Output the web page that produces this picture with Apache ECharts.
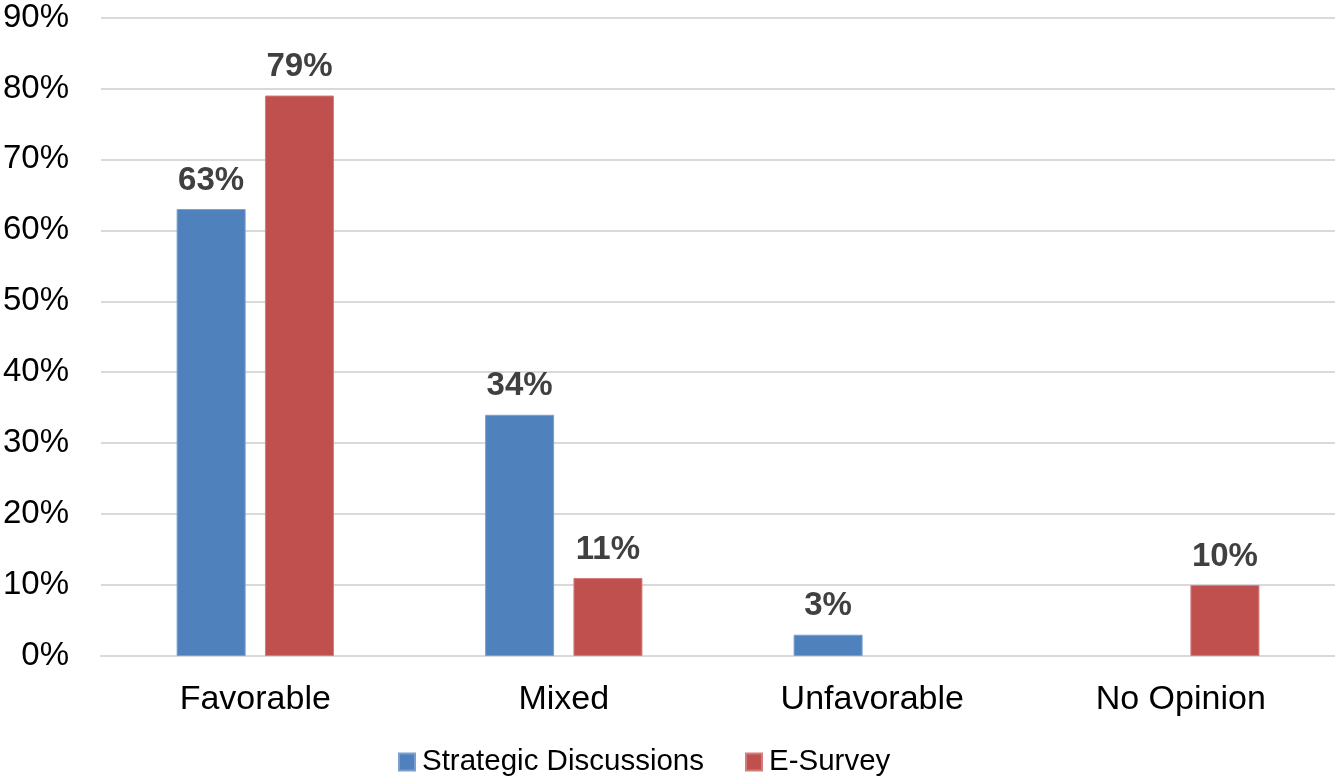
<!DOCTYPE html>
<html>
<head>
<meta charset="utf-8">
<script src="https://cdn.jsdelivr.net/npm/echarts@6/dist/echarts.min.js"></script>
<style>
  html, body { margin: 0; padding: 0; background: #fff; }
  #chart { width: 1335px; height: 780px; }
</style>
</head>
<body>
<div id="chart"></div>
<script>
// Survey responses by category, in percent
const categories = ['Favorable', 'Mixed', 'Unfavorable', 'No Opinion'];
const strategicDiscussions = [63, 34, 3, null];
const eSurvey = [79, 11, null, 10];
const yTicks = { min: 0, max: 90, interval: 10 };

const font = '"Liberation Sans", Arial, sans-serif';
const gridGray = '#d9d9d9';

const labelStyle = {
  show: true,
  position: 'top',
  distance: 12,
  formatter: p => p.value + '%',
  color: '#404040',
  fontFamily: font,
  fontWeight: 'bold',
  fontSize: 33
};

const chart = echarts.init(document.getElementById('chart'), null, { renderer: 'canvas' });
chart.setOption({
  animation: false,
  textStyle: { fontFamily: font },
  grid: { left: 100, right: 0, top: 17.5, bottom: 124, containLabel: false },
  legend: {
    bottom: -2,
    left: 393,
    itemWidth: 16,
    itemHeight: 17,
    itemGap: 41,
    icon: 'rect',
    textStyle: { fontFamily: font, fontSize: 29.5, color: '#000', padding: [0, 0, 0, 2] },
    data: ['Strategic Discussions', 'E-Survey']
  },
  xAxis: {
    type: 'category',
    data: categories,
    axisLine: { show: true, lineStyle: { color: gridGray, width: 2 } },
    axisTick: { show: false },
    axisLabel: { color: '#000', fontFamily: font, fontSize: 34, margin: 27 }
  },
  yAxis: {
    type: 'value',
    min: yTicks.min,
    max: yTicks.max,
    interval: yTicks.interval,
    axisLine: { show: false },
    axisTick: { show: false },
    splitLine: { lineStyle: { color: gridGray, width: 2 } },
    axisLabel: { color: '#000', fontFamily: font, fontSize: 33, margin: 32, formatter: v => v + '%' }
  },
  series: [
    {
      name: 'Strategic Discussions',
      type: 'bar',
      data: strategicDiscussions,
      barWidth: 69,
      barGap: '28%',
      itemStyle: { color: '#4f81bd', borderColor: '#7a9fcf', borderWidth: 1 },
      label: labelStyle
    },
    {
      name: 'E-Survey',
      type: 'bar',
      data: eSurvey,
      barWidth: 69,
      barGap: '28%',
      itemStyle: { color: '#c0504d', borderColor: '#d27d7b', borderWidth: 1 },
      label: labelStyle
    }
  ]
});
</script>
</body>
</html>
